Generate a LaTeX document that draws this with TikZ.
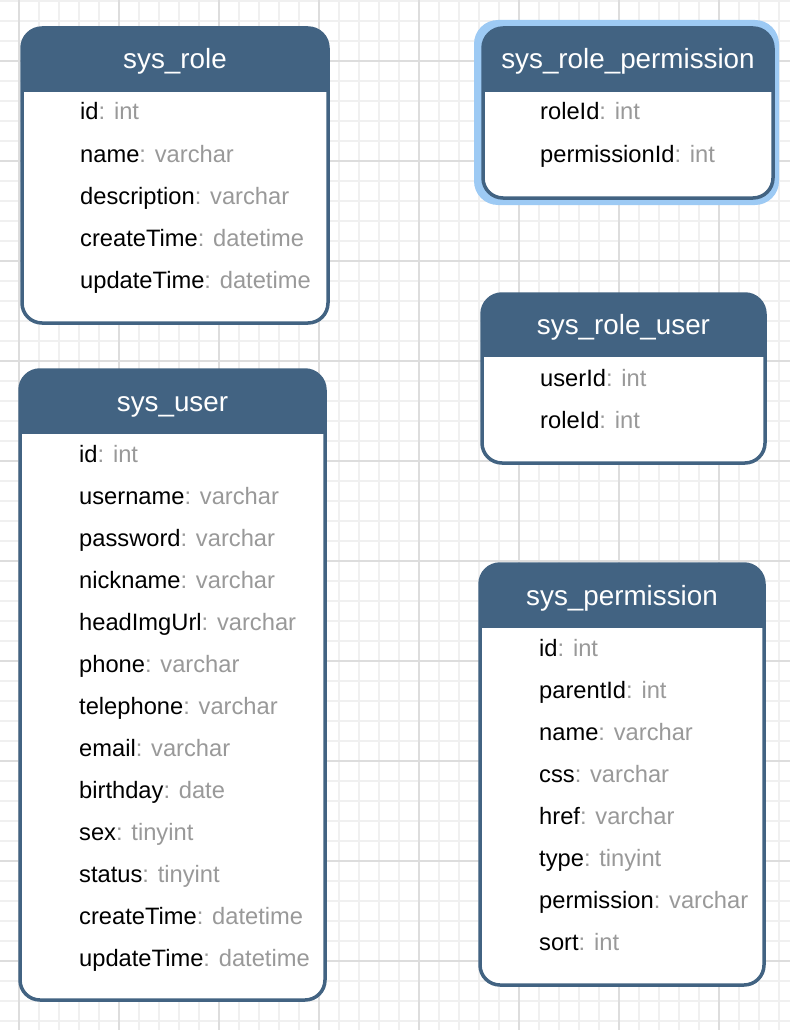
\documentclass[tikz,border=0pt]{standalone}
\usepackage{fontspec}
\setmainfont{Liberation Sans}
\definecolor{hdr}{HTML}{426382}
\definecolor{typ}{HTML}{999999}
\definecolor{gminor}{HTML}{F0F0F0}
\definecolor{gmajor}{HTML}{DDDDDD}
\definecolor{halo}{HTML}{9DCAF4}
\newcommand\ty[1]{\textcolor{typ}{#1}}
\newcommand\ertable[7]{%
  \begin{scope}
    \clip[rounded corners=20pt] (#2,#3) rectangle (#4,#5);
    \fill[white] (#2,#3) rectangle (#4,#5);
    \fill[hdr] (#2,#3) rectangle (#4,#6);
  \end{scope}
  \draw[boxline] (#2,#3) rectangle (#4,#5);
  \node[titletxt] (#1) at ({(#2+#4)/2},{(#3+#6)/2+9}) {#7};
}
\begin{document}
\begin{tikzpicture}[x=1pt,y=-1pt,
  titletxt/.style={text=white, font=\fontsize{27.8}{32}\selectfont, anchor=base, inner sep=0pt},
  rowtxt/.style={font=\fontsize{23.7}{28}\selectfont, anchor=base west, inner sep=0pt},
  boxline/.style={draw=hdr, line width=3.5pt, rounded corners=20pt},
  gridminor/.style={draw=gminor, line width=1.5pt},
  gridmajor/.style={draw=gmajor, line width=1.5pt}]
\useasboundingbox (0,0) rectangle (790,1030);
\fill[white] (0,0) rectangle (790,1030);
% grid
\foreach \x in {-1,19,...,779} \draw[gridminor] (\x,0) -- (\x,1030);
\foreach \y in {1,21,...,1021} \draw[gridminor] (0,\y) -- (790,\y);
\foreach \x in {19,119,...,719} \draw[gridmajor] (\x,0) -- (\x,1030);
\foreach \y in {61,161,...,961} \draw[gridmajor] (0,\y) -- (790,\y);

% sys_role
\ertable{role}{22}{28}{328}{323}{92}{sys\_role}
\foreach \k/\t [count=\i] in {id/int, name/varchar, description/varchar, createTime/datetime, updateTime/datetime}
  \node[rowtxt] (role-\i) at (80,{120+42*(\i-1)}) {\k\ty{: \t}};

% sys_role_permission (selected)
\fill[halo, rounded corners=24pt] (474,20) rectangle (779,205);
\ertable{roleperm}{483}{28}{773}{198}{92}{sys\_role\_permission}
\foreach \k/\t [count=\i] in {roleId/int, permissionId/int}
  \node[rowtxt] (roleperm-\i) at (540,{120+42*(\i-1)}) {\k\ty{: \t}};

% sys_role_user
\ertable{roleuser}{482}{294}{765}{463}{357}{sys\_role\_user}
\foreach \k/\t [count=\i] in {userId/int, roleId/int}
  \node[rowtxt] (roleuser-\i) at (540,{386+42*(\i-1)}) {\k\ty{: \t}};

% sys_user
\ertable{user}{20}{370}{325}{1000}{434}{sys\_user}
\foreach \k/\t [count=\i] in {id/int, username/varchar, password/varchar, nickname/varchar, headImgUrl/varchar, phone/varchar, telephone/varchar, email/varchar, birthday/date, sex/tinyint, status/tinyint, createTime/datetime, updateTime/datetime}
  \node[rowtxt] (user-\i) at (79,{462+42*(\i-1)}) {\k\ty{: \t}};

% sys_permission
\ertable{perm}{480}{564}{764}{985}{628}{sys\_permission}
\foreach \k/\t [count=\i] in {id/int, parentId/int, name/varchar, css/varchar, href/varchar, type/tinyint, permission/varchar, sort/int}
  \node[rowtxt] (perm-\i) at (539,{656+42*(\i-1)}) {\k\ty{: \t}};
\end{tikzpicture}
\end{document}
